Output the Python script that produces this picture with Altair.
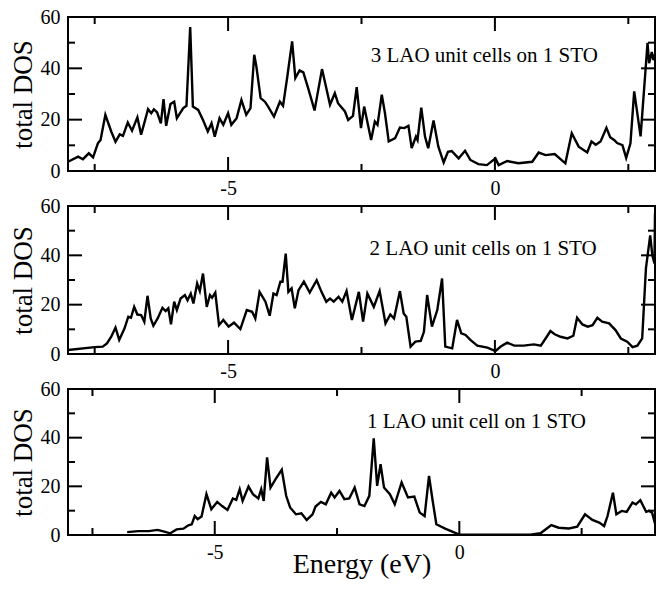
import altair as alt
import pandas as pd

# ---------------- data ----------------
top_E = [-8.00, -7.81, -7.72, -7.61, -7.53, -7.44, -7.39, -7.30, -7.19, -7.11,
         -7.03, -6.97, -6.88, -6.80, -6.70, -6.63, -6.50, -6.44, -6.39, -6.33,
         -6.26, -6.21, -6.16, -6.08, -6.01, -5.96, -5.84, -5.78, -5.71, -5.66,
         -5.56, -5.47, -5.38, -5.31, -5.25, -5.16, -5.09, -5.00, -4.94, -4.84,
         -4.75, -4.66, -4.58, -4.51, -4.47, -4.39, -4.31, -4.25, -4.14, -4.03,
         -3.97, -3.89, -3.80, -3.74, -3.66, -3.59, -3.50, -3.38, -3.24, -3.09,
         -3.00, -2.94, -2.81, -2.75, -2.66, -2.59, -2.51, -2.45, -2.32, -2.25,
         -2.20, -2.12, -2.06, -1.99, -1.87, -1.78, -1.70, -1.62, -1.56, -1.48,
         -1.45, -1.38, -1.31, -1.25, -1.15, -1.06, -0.96, -0.88, -0.81, -0.68,
         -0.56, -0.46, -0.31, -0.15, 0.01, 0.07, 0.23, 0.44, 0.70, 0.82,
         0.95, 1.12, 1.32, 1.44, 1.57, 1.73, 1.81, 1.89, 1.98, 2.09,
         2.16, 2.24, 2.29, 2.39, 2.46, 2.54, 2.61, 2.73, 2.86,
         2.89, 2.94, 2.97, 3.00]
top_DOS = [3.6, 5.6, 4.6, 6.9, 5.3, 10.8, 12.1, 21.9, 15.4, 11.4,
           14.3, 13.7, 18.9, 15.7, 20.9, 14.1, 24.1, 22.5, 24.0, 22.8,
           18.6, 28.0, 17.6, 26.1, 27.0, 20.6, 24.5, 25.4, 56.1, 25.1,
           23.8, 19.9, 15.4, 18.6, 13.4, 20.6, 18.0, 22.5, 18.0, 20.6,
           27.7, 21.9, 24.5, 45.3, 40.7, 28.4, 27.0, 25.1, 21.2, 27.0,
           25.4, 36.8, 50.5, 36.2, 39.2, 38.4, 32.3, 23.6, 39.7, 25.8,
           30.3, 26.4, 23.2, 19.9, 21.5, 32.7, 16.7, 25.1, 12.1, 19.3,
           18.0, 29.7, 22.5, 11.5, 12.8, 16.9, 16.7, 17.6, 8.9, 13.4,
           12.1, 24.7, 13.4, 8.9, 19.7, 9.5, 3.3, 7.5, 7.8, 4.9,
           7.9, 4.3, 2.7, 2.3, 4.9, 2.3, 3.9, 3.0, 3.6, 7.2,
           6.2, 6.6, 3.0, 14.7, 9.5, 7.2, 11.5, 10.2, 11.5, 16.8,
           13.2, 12.0, 10.9, 10.1, 5.1, 10.8, 31.0, 13.5, 49.9,
           42.0, 46.4, 43.2, 45.5]

mid_E = [-8.00, -7.50, -7.35, -7.27, -7.19, -7.11, -7.04, -6.94, -6.87, -6.82,
         -6.76, -6.70, -6.63, -6.57, -6.51, -6.45, -6.40, -6.32, -6.23, -6.17,
         -6.12, -6.07, -6.01, -5.96, -5.89, -5.81, -5.76, -5.70, -5.65, -5.58,
         -5.53, -5.47, -5.40, -5.34, -5.30, -5.24, -5.17, -5.09, -4.99, -4.89,
         -4.77, -4.65, -4.55, -4.49, -4.41, -4.30, -4.22, -4.15, -4.09, -4.02,
         -3.98, -3.92, -3.87, -3.81, -3.75, -3.68, -3.58, -3.47, -3.34, -3.25,
         -3.16, -3.09,
         -3.02, -2.93, -2.86, -2.78, -2.68, -2.55, -2.47, -2.39, -2.27, -2.16,
         -2.05, -1.96, -1.89, -1.78, -1.71, -1.66, -1.58, -1.49, -1.39, -1.33,
         -1.27, -1.18, -1.08, -0.99, -0.93, -0.80, -0.71, -0.63, -0.55, -0.46,
         -0.33, -0.14, 0.01, 0.11, 0.23, 0.36, 0.54, 0.73, 0.86, 0.95,
         1.04, 1.12, 1.23, 1.36, 1.47, 1.54, 1.64, 1.74, 1.83, 1.92,
         2.01, 2.14, 2.26, 2.36, 2.48, 2.58, 2.67, 2.76, 2.83, 2.91,
         2.95, 2.99, 3.00]
mid_DOS = [1.6, 2.8, 3.0, 4.3, 7.0, 10.7, 5.7, 10.4, 15.1, 14.7,
           19.1, 16.0, 15.8, 13.1, 23.6, 14.4, 11.5, 14.4, 18.7, 17.4,
           18.5, 12.0, 21.2, 17.8, 22.5, 23.9, 21.8, 24.5, 20.5, 28.6,
           25.5, 32.6, 19.1, 23.9, 22.8, 24.9, 11.7, 13.8, 11.1, 12.7,
           10.1, 17.8, 17.1, 14.4, 25.2, 21.2, 15.5, 24.5, 23.9, 29.3,
           29.3, 40.7, 25.2, 26.6, 18.5, 25.9, 29.3, 24.9, 29.9, 25.2,
           21.2, 22.5,
           21.2, 23.2, 21.2, 25.5, 13.8, 25.2, 13.1, 24.5, 19.1, 25.5,
           12.4, 16.0, 14.4, 25.5, 16.4, 15.1, 3.0, 5.0, 5.3, 9.0,
           23.9, 11.1, 17.8, 30.6, 3.0, 2.3, 13.8, 8.4, 7.7, 5.7,
           3.4, 2.6, 1.2, 3.0, 4.6, 3.4, 3.4, 3.9, 3.4, 6.3,
           9.3, 8.0, 7.0, 6.3, 7.4, 14.7, 12.0, 11.1, 11.7, 14.7,
           13.1, 12.4, 9.7, 6.3, 5.0, 2.8, 3.4, 6.3, 34.7, 48.1,
           40.0, 36.7, 57.0]

bot_E = [-6.79, -6.56, -6.35, -6.17, -6.05, -5.91, -5.78, -5.64, -5.54, -5.47,
         -5.41, -5.35, -5.27, -5.17, -5.07, -4.95, -4.85, -4.74, -4.63, -4.56,
         -4.49, -4.43, -4.31, -4.22, -4.11, -4.05, -4.00, -3.93, -3.86, -3.75,
         -3.63, -3.54, -3.46, -3.34, -3.23, -3.12, -3.00, -2.94, -2.83, -2.73,
         -2.62, -2.55, -2.45, -2.35, -2.25, -2.14, -2.04, -1.94, -1.84, -1.75,
         -1.68, -1.61, -1.54, -1.42, -1.32, -1.18, -1.05, -0.92, -0.81, -0.71,
         -0.62, -0.55, -0.47, -0.29, -0.12, 0.01, 0.39, 0.94, 1.45, 1.66,
         1.88, 2.03, 2.24, 2.41, 2.57, 2.72, 2.86, 2.96, 3.03, 3.14,
         3.21, 3.32, 3.42, 3.54, 3.61, 3.70, 3.82, 3.88, 3.94, 4.00]
bot_DOS = [1.2, 1.6, 1.6, 2.1, 1.5, 0.7, 2.3, 2.6, 4.0, 4.4,
           7.8, 6.5, 7.6, 16.8, 10.6, 13.6, 11.9, 10.3, 15.0, 14.4,
           18.8, 14.0, 19.9, 16.8, 15.0, 18.8, 14.0, 31.9, 19.5, 23.2,
           26.8, 16.1, 11.3, 8.5, 8.9, 6.2, 8.5, 11.7, 13.6, 12.6,
           17.4, 15.4, 18.1, 14.7, 15.0, 19.5, 12.6, 11.9, 16.1, 39.7,
           20.2, 29.1, 19.5, 16.8, 12.6, 21.6, 15.4, 15.8, 9.2, 7.8,
           24.3, 14.7, 4.4, 2.6, 1.2, 0.1, 0.1, 0.1, 0.1, 0.7,
           4.1, 3.0, 2.7, 3.4, 8.5, 6.2, 5.1, 3.7, 7.8, 17.4,
           8.5, 9.9, 9.5, 13.3, 12.6, 14.3, 9.5, 9.9, 9.2, 4.8]

labels = ["3 LAO unit cells on 1 STO", "2 LAO unit cells on 1 STO", "1 LAO unit cell on 1 STO"]
label_E = [-0.20, -0.22, 0.35]
label_DOS = [44.8, 42.6, 46.4]
x_domains = [[-8, 3], [-8, 3], [-8, 4]]
y_domain = [0, 60]
x_major = [-5, 0]
x_minor = [-7.5, -2.5, 2.5]
y_major = [20, 40]
y_minor = [10, 30, 50]
y_labels = [0, 20, 40, 60]

FONT = "Liberation Serif"
W = 587
heights = [154, 148, 146]
MAJOR = 14   # tick lengths in pixels (style)
MINOR = 7


def panel(E, D, i, show_title):
    h = heights[i]
    x0, x1 = x_domains[i]
    y0, y1 = y_domain
    px_x = (x1 - x0) / W      # data units per pixel
    px_y = (y1 - y0) / h
    df = pd.DataFrame({"E": E, "DOS": D})
    xs = alt.Scale(domain=x_domains[i], nice=False, zero=False)
    ys = alt.Scale(domain=y_domain, nice=False, zero=False)

    x_axis = alt.Axis(orient="bottom", values=x_major, ticks=False, tickSize=0,
                      domain=False, grid=False, labelPadding=7, labelFlush=False,
                      labelExpr="'' + datum.value",
                      labelFont=FONT, labelFontSize=20, labelColor="black",
                      title="Energy  (eV)" if show_title else "",
                      titleFont=FONT, titleFontWeight="normal", titleColor="black",
                      titleFontSize=28, titleY=37, titleBaseline="alphabetic")
    y_axis = alt.Axis(orient="left", values=y_labels, ticks=False, tickSize=0,
                      domain=False, grid=False, labelPadding=8, labelFlush=False,
                      labelFont=FONT, labelFontSize=20, labelColor="black",
                      title="total DOS", titleFont=FONT, titleFontWeight="normal",
                      titleColor="black", titleFontSize=27, titlePadding=3)

    # inward tick stubs drawn as two-point line segments (one 'id' per stub)
    rows = []
    k = 0
    for vals, ln in [(x_major, MAJOR), (x_minor, MINOR)]:
        for v in vals:
            for a, b in [(y1, y1 - ln * px_y), (y0, y0 + ln * px_y)]:
                rows += [{"id": k, "tx": v, "ty": a}, {"id": k, "tx": v, "ty": b}]
                k += 1
    for vals, ln in [(y_major, MAJOR), (y_minor, MINOR)]:
        for v in vals:
            for a, b in [(x0, x0 + ln * px_x), (x1, x1 - ln * px_x)]:
                rows += [{"id": k, "tx": a, "ty": v}, {"id": k, "tx": b, "ty": v}]
                k += 1
    ticks_df = pd.DataFrame(rows)

    line = alt.Chart(df).mark_line(color="black", strokeWidth=2.4, clip=True).encode(
        x=alt.X("E:Q", scale=xs, axis=x_axis),
        y=alt.Y("DOS:Q", scale=ys, axis=y_axis))

    ticks = alt.Chart(ticks_df).mark_line(color="black", strokeWidth=2).encode(
        x=alt.X("tx:Q", scale=xs, axis=x_axis),
        y=alt.Y("ty:Q", scale=ys, axis=y_axis),
        detail="id:N")

    lab_df = pd.DataFrame({"E": [label_E[i]], "DOS": [label_DOS[i]], "t": [labels[i]]})
    text = alt.Chart(lab_df).mark_text(font=FONT, fontSize=21, align="center",
                                       baseline="middle", color="black").encode(
        x=alt.X("E:Q", scale=xs, axis=x_axis),
        y=alt.Y("DOS:Q", scale=ys, axis=y_axis),
        text="t:N")

    return alt.layer(line, ticks, text).properties(width=W, height=h)


top = panel(top_E, top_DOS, 0, False)
mid = panel(mid_E, mid_DOS, 1, False)
bot = panel(bot_E, bot_DOS, 2, True)

chart = alt.vconcat(top, mid, bot, spacing=35, bounds="flush").properties(
    padding={"left": 8, "top": 6, "right": 3, "bottom": 5},
    background="white",
).configure_view(stroke="black", strokeWidth=2)

chart.save("out.html", embed_options={"renderer": "svg", "actions": False})
